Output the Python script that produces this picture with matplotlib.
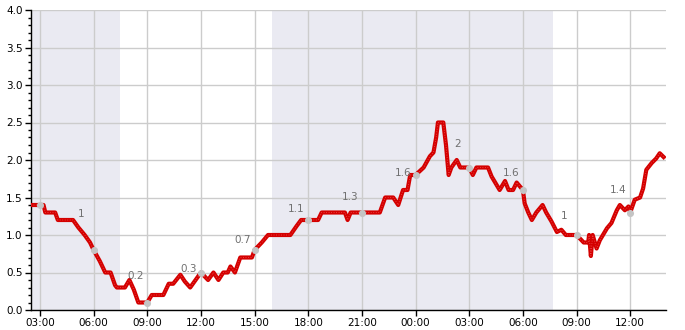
import numpy as np
import matplotlib
matplotlib.use('Agg')
from matplotlib import pyplot as plt
import matplotlib.dates as mdates
from datetime import datetime, timedelta

# hours counted from midnight of the first day
hours = [2.5, 3.0, 3.2, 3.3, 3.85, 4.0, 4.85, 5.15, 5.5, 5.8, 6.0, 6.35, 6.65, 6.95,
         7.2, 7.3, 7.75, 8.0, 8.25, 8.5, 9.0, 9.25, 9.9, 10.2, 10.45, 10.85, 11.1,
         11.4, 11.7, 12.0, 12.4, 12.7, 12.98, 13.25, 13.5, 13.65, 13.9, 14.2, 14.85,
         15.0, 15.4, 15.75, 17.0, 17.35, 17.6, 18.55, 18.75, 20.05, 20.2, 20.37,
         22.0, 22.3, 22.75, 23.03, 23.3, 23.55, 23.7, 24.0, 24.45, 24.8, 25.0,
         25.15, 25.25, 25.55, 25.7, 25.85, 26.0, 26.3, 26.5, 27.0, 27.2, 27.4,
         28.05, 28.25, 28.45, 28.7, 29.0, 29.2, 29.45, 29.65, 30.0, 30.1, 30.3,
         30.5, 30.75, 31.1, 31.3, 31.6, 31.9, 32.15, 32.4, 33.0, 33.4, 33.65,
         33.7, 33.8, 33.9, 34.12, 34.3, 34.7, 34.95, 35.25, 35.42, 35.7, 35.9,
         36.0, 36.25, 36.55, 36.72, 36.9, 37.2, 37.45, 37.65, 37.95]
values = [1.4, 1.4, 1.4, 1.3, 1.3, 1.2, 1.2, 1.1, 1.0, 0.9, 0.8, 0.65, 0.5, 0.5,
          0.33, 0.3, 0.3, 0.4, 0.27, 0.1, 0.1, 0.2, 0.2, 0.35, 0.35, 0.47, 0.38,
          0.3, 0.4, 0.5, 0.4, 0.5, 0.4, 0.5, 0.5, 0.58, 0.5, 0.7, 0.7,
          0.8, 0.9, 1.0, 1.0, 1.12, 1.2, 1.2, 1.3, 1.3, 1.2, 1.3,
          1.3, 1.5, 1.5, 1.4, 1.6, 1.6, 1.8, 1.8, 1.9, 2.05, 2.1,
          2.3, 2.5, 2.5, 2.2, 1.8, 1.9, 2.0, 1.9, 1.9, 1.8, 1.9,
          1.9, 1.78, 1.7, 1.6, 1.72, 1.6, 1.6, 1.7, 1.6, 1.42, 1.3,
          1.2, 1.3, 1.4, 1.3, 1.18, 1.04, 1.07, 1.0, 1.0, 0.9, 0.9,
          1.0, 0.72, 1.0, 0.82, 0.93, 1.09, 1.16, 1.33, 1.4, 1.33, 1.38,
          1.3, 1.47, 1.5, 1.62, 1.87, 1.96, 2.02, 2.09, 2.02]

# grey markers every 3 hours, with the labels written next to them
dot_hours = [3, 6, 9, 12, 15, 18, 21, 24, 27, 30, 33, 36]
dot_labels = ['', '1', '0.2', '0.3', '0.7', '1.1', '1.3', '1.6', '2', '1.6', '1', '1.4']

# shaded (dark) periods
dark_periods = [(2.5, 7.5), (15.95, 31.7)]

base = datetime(2024, 1, 15)
def to_time(h):
    return base + timedelta(hours=h)

times = [to_time(h) for h in hours]

fig = plt.figure(figsize=(6.85, 3.3), dpi=100)
ax = fig.add_axes([31/685, 20/330, 635/685, 300/330])

for start, end in dark_periods:
    ax.axvspan(to_time(start), to_time(end), color='#eaeaf2', lw=0, zorder=0)

ax.plot(times, values, color='#d40000', lw=3.0, solid_capstyle='butt', zorder=3)
# the original line has a faint dotted texture inside
ax.plot(times, values, color='#ee5050', lw=0.6, ls=(0, (1, 2)), zorder=3)

dot_vals = np.interp(dot_hours, hours, values)
ax.scatter([to_time(h) for h in dot_hours], dot_vals, s=26, color='#c4c4c4', zorder=4, lw=0)
for h, lab in zip(dot_hours, dot_labels):
    if lab == '':
        continue
    lh = h - 0.67
    ly = np.interp(lh, hours, values)
    ax.annotate(lab, (to_time(lh), ly), xytext=(0, 9), textcoords='offset points',
                ha='center', va='bottom', fontsize=7.5, color='#707070', zorder=5)

ax.set_xlim(to_time(2.5), to_time(38.0))
ax.set_ylim(0, 4)
ax.yaxis.set_major_locator(plt.MultipleLocator(0.5))
ax.yaxis.set_minor_locator(plt.MultipleLocator(0.1))
ax.yaxis.set_major_formatter(plt.FormatStrFormatter('%.1f'))
ax.xaxis.set_major_locator(mdates.HourLocator(byhour=range(0, 24, 3)))
ax.xaxis.set_major_formatter(mdates.DateFormatter('%H:%M'))

ax.grid(True, which='major', color='#cccccc', lw=1)
ax.set_axisbelow(True)
for s in ['top', 'right']:
    ax.spines[s].set_visible(False)
ax.spines['left'].set_linewidth(1)
ax.spines['bottom'].set_linewidth(1)
ax.tick_params(axis='both', which='major', labelsize=7.5, length=4, width=1, pad=2)
ax.tick_params(axis='y', which='minor', length=2, width=1)

plt.savefig('out.png', dpi=100)
